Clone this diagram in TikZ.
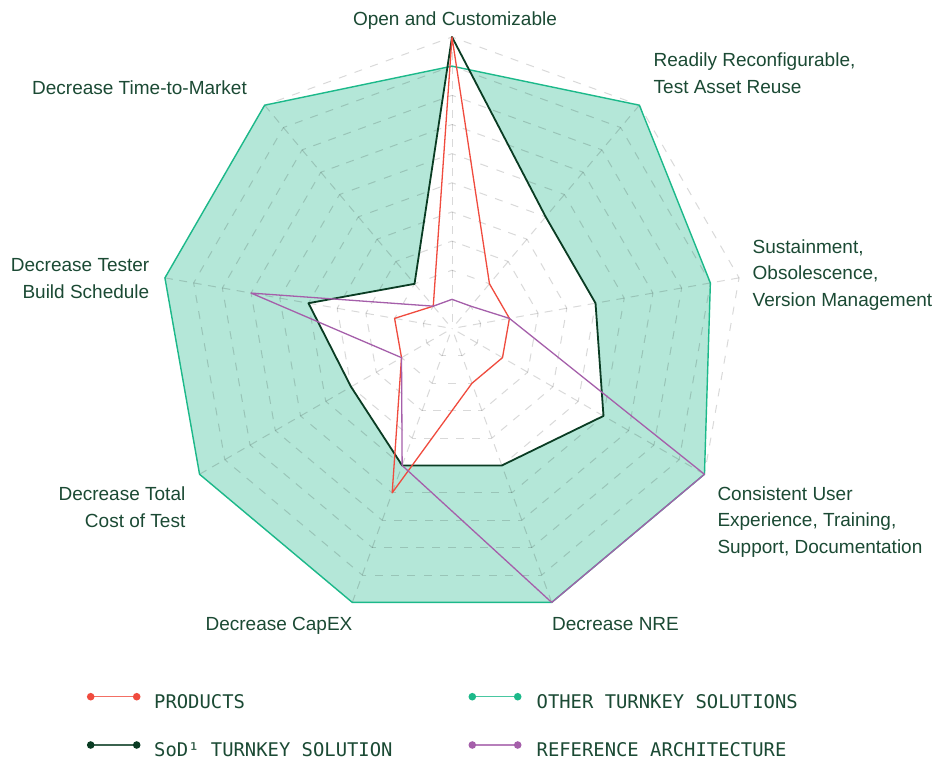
\documentclass[tikz,border=0pt]{standalone}
\usepackage{fontspec}
\setmainfont{Liberation Sans}
\newfontfamily\legendfont{DejaVu Sans Mono}
\usetikzlibrary{calc}
\definecolor{txt}{RGB}{27,74,52}
\definecolor{sod}{RGB}{10,60,35}
\definecolor{prod}{RGB}{240,75,62}
\definecolor{refa}{RGB}{165,95,170}
\definecolor{otherc}{RGB}{28,185,138}
\begin{document}
\begin{tikzpicture}[x=1pt,y=1pt,
  lbl/.style={font=\fontsize{19}{26.6}\selectfont, text=txt, inner sep=0pt},
  leg/.style={font=\legendfont\fontsize{18.85}{22}\selectfont, text=txt, inner sep=0pt},
  gridline/.style={draw=black, draw opacity=0.15, line width=1pt},
  series/.style={line width=#1, line join=round},
  legline/.style={line width=1.5pt, draw opacity=0.8}]
\useasboundingbox (0,-771) rectangle (940,0);
\fill[white] (0,-771) rectangle (940,0);
\def\R{291.5}
\coordinate (c) at (452,-328.5);
% series coordinates
\foreach \v [count=\i from 0] in {0.9,1,0.9,1,1,1,1,1,1}
  \coordinate (t\i) at ($(c)+({90-40*\i}:{\v*\R})$);
\foreach \v [count=\i from 0] in {1,0.5,0.5,0.6,0.5,0.5,0.4,0.5,0.2}
  \coordinate (s\i) at ($(c)+({90-40*\i}:{\v*\R})$);
\foreach \v [count=\i from 0] in {1,0.2,0.2,0.2,0.2,0.6,0.2,0.2,0.1}
  \coordinate (p\i) at ($(c)+({90-40*\i}:{\v*\R})$);
\foreach \v [count=\i from 0] in {0.1,0.1,0.2,1,1,0.5,0.2,0.7,0.1}
  \coordinate (r\i) at ($(c)+({90-40*\i}:{\v*\R})$);
% fills
\fill[otherc, fill opacity=0.33] (t0)--(t1)--(t2)--(t3)--(t4)--(t5)--(t6)--(t7)--(t8)--cycle;
\fill[white] (s0)--(s1)--(s2)--(s3)--(s4)--(s5)--(s6)--(s7)--(s8)--cycle;
% grid rings
\foreach \k in {1,...,10} {
  \pgfmathsetmacro\rr{\k*\R/10}
  \pgfmathsetmacro\L{2*\rr*sin(20)}
  \pgfmathsetmacro\n{max(1,round(\L/16))}
  \pgfmathsetlengthmacro\off{\L/\n-8}
  \foreach \i in {0,...,8} {
    \draw[gridline, dash pattern=on 8pt off \off, dash phase=4pt]
      ($(c)+({90-40*\i}:\rr)$) -- ($(c)+({50-40*\i}:\rr)$);
  }
}
% grid spokes
\foreach \i in {0,...,8}
  \draw[gridline, dash pattern=on 8pt off 6.575pt] ($(c)+({90-40*\i}:\R)$) -- (c);
% series outlines
\draw[otherc, series=1.4pt] (t0)--(t1)--(t2)--(t3)--(t4)--(t5)--(t6)--(t7)--(t8)--cycle;
\draw[sod, series=1.8pt] (s0)--(s1)--(s2)--(s3)--(s4)--(s5)--(s6)--(s7)--(s8)--cycle;
\draw[prod, series=1.3pt] (p0)--(p1)--(p2)--(p3)--(p4)--(p5)--(p6)--(p7)--(p8)--cycle;
\draw[refa, series=1.3pt] (r0)--(r1)--(r2)--(r3)--(r4)--(r5)--(r6)--(r7)--(r8)--cycle;
% axis labels (base anchor = baseline of last line)
\node[lbl, anchor=base] (l0) at (455,-25) {Open and Customizable};
\node[lbl, anchor=base west, align=left] (l1) at (653.5,-93.3) {Readily Reconfigurable,\\Test Asset Reuse};
\node[lbl, anchor=base west, align=left] (l2) at (752.5,-306.5) {Sustainment,\\Obsolescence,\\Version Management};
\node[lbl, anchor=base west, align=left] (l3) at (717.3,-553.5) {Consistent User\\Experience, Training,\\Support, Documentation};
\node[lbl, anchor=base west] (l4) at (552,-630.7) {Decrease NRE};
\node[lbl, anchor=base] (l5) at (279,-630.7) {Decrease CapEX};
\node[lbl, anchor=base east, align=right] (l6) at (185.5,-527) {Decrease Total\\Cost of Test};
\node[lbl, anchor=base east, align=right] (l7) at (149.5,-298.5) {Decrease Tester\\Build Schedule};
\node[lbl, anchor=base] (l8) at (139.5,-94) {Decrease Time-to-Market};
% legend
\coordinate (pa) at (90.7,-696.7); \coordinate (pb) at (136.7,-696.7);
\coordinate (sa) at (90.7,-745); \coordinate (sb) at (136.7,-745);
\coordinate (ta) at (472.3,-696.7); \coordinate (tb) at (517.7,-696.7);
\coordinate (ra) at (472.3,-745); \coordinate (rb) at (517.7,-745);
\draw[prod, legline] (pa) -- (pb);
\fill[prod] (pa) circle (3.8) (pb) circle (3.8);
\draw[sod, legline] (sa) -- (sb);
\fill[sod] (sa) circle (3.8) (sb) circle (3.8);
\draw[otherc, legline] (ta) -- (tb);
\fill[otherc] (ta) circle (3.8) (tb) circle (3.8);
\draw[refa, legline] (ra) -- (rb);
\fill[refa] (ra) circle (3.8) (rb) circle (3.8);
\node[leg, anchor=base west] (lp) at (154,-708.3) {PRODUCTS};
\node[leg, anchor=base west] (ls) at (154,-756.3) {SoD¹ TURNKEY SOLUTION};
\node[leg, anchor=base west] (lt) at (536.5,-708.3) {OTHER TURNKEY SOLUTIONS};
\node[leg, anchor=base west] (lr) at (536.5,-756.3) {REFERENCE ARCHITECTURE};
\end{tikzpicture}
\end{document}
